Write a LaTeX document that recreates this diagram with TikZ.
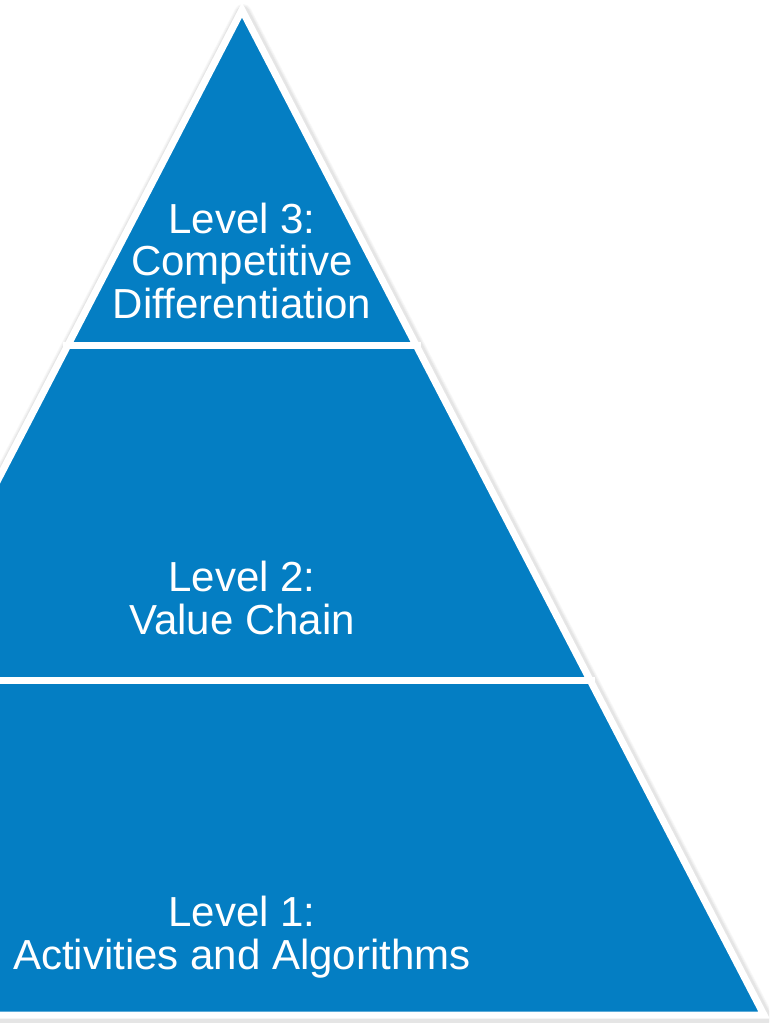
\documentclass[tikz,border=0pt]{standalone}
\usepackage{fontspec}
\setmainfont{Liberation Sans}
\usetikzlibrary{calc}
\definecolor{pyrblue}{HTML}{047EC3}

\begin{document}
\begin{tikzpicture}[x=1pt,y=-1pt,
  lvltext/.style={text=white,align=center,anchor=base,inner sep=0pt,
    font=\fontsize{42}{42.5}\selectfont}]
\def\ax{242}
\def\ay{10}
\def\by{1015}
\def\hw{522}
\useasboundingbox (0,0) rectangle (769,1023);
\clip (0,0) rectangle (769,1023);
\fill[white] (0,0) rectangle (769,1023);
% shadow
\foreach \w/\c in {17/3,15/6,13/10}
  \draw[black!\c,line width=\w,line join=round]
    (\ax+1,\ay+2.5) -- (\ax-\hw+1,\by+2.5) -- (\ax+\hw+1,\by+2.5) -- cycle;
% pyramid
\fill[pyrblue] (\ax,\ay) -- (\ax-\hw,\by) -- (\ax+\hw,\by) -- cycle;
\draw[white,line width=7,line join=miter] (\ax,\ay) -- (\ax-\hw,\by) -- (\ax+\hw,\by) -- cycle;
% bands
\draw[white,line width=7] (\ax-\hw/3-5,345) -- (\ax+\hw/3+5,345);
\draw[white,line width=7] (\ax-2*\hw/3-5,680) -- (\ax+2*\hw/3+5,680);
% labels (base = last line)
\node[lvltext] (lvlthree) at (\ax,318) {Level 3:\\Competitive\\Differentiation};
\node[lvltext] (lvltwo) at (\ax,634) {Level 2:\\Value Chain};
\node[lvltext] (lvlone) at (\ax,969) {Level 1:\\Activities and Algorithms};
\end{tikzpicture}
\end{document}
